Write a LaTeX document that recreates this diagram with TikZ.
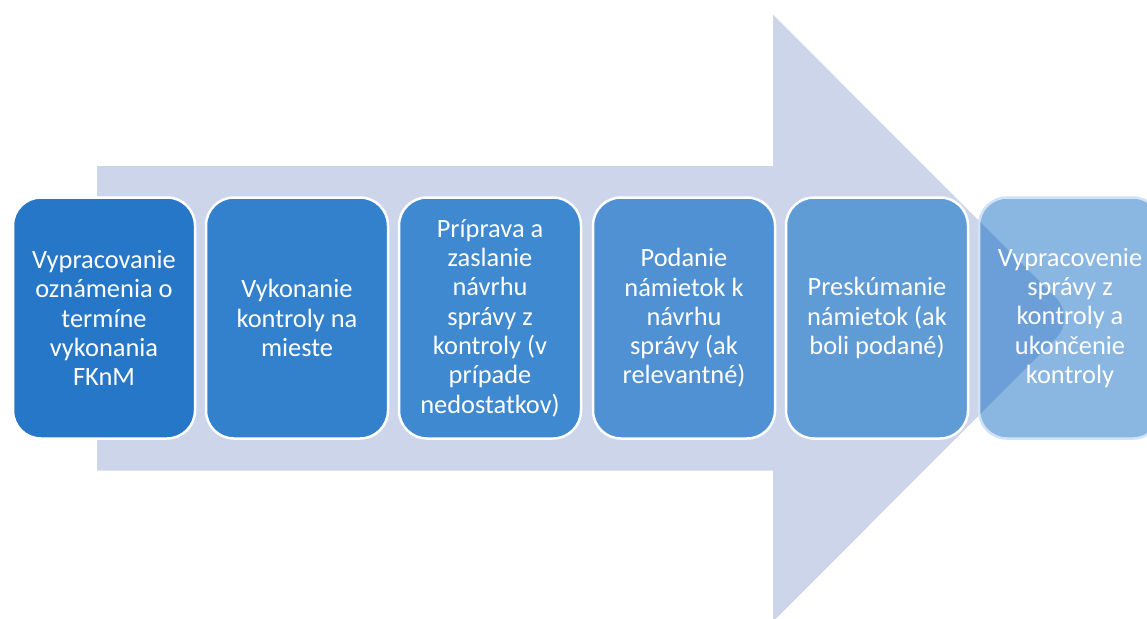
\documentclass[tikz,border=0pt]{standalone}
\usepackage{fontspec}
\setmainfont{Carlito}
\definecolor{arrowfill}{HTML}{CDD5EA}
\definecolor{arrowdark}{HTML}{6C9FD7}
\definecolor{boxA}{HTML}{2677C8}
\definecolor{boxB}{HTML}{3381CC}
\definecolor{boxC}{HTML}{3E89CF}
\definecolor{boxD}{HTML}{4F91D3}
\definecolor{boxE}{HTML}{5F9BD5}
\definecolor{boxF}{HTML}{8AB6E2}
\begin{document}
\begin{tikzpicture}[x=1pt, y=1pt,
    stepbox/.style={rectangle, rounded corners=28pt, draw=white, line width=2.5pt,
      minimum width=182pt, minimum height=241pt, inner sep=0pt, text=white,
      align=center, font=\fontsize{26.4}{29.3}\selectfont}]
  \useasboundingbox (0,0) rectangle (1147,-618);
  \clip (0,0) rectangle (1147,-618);
  % big arrow behind the steps
  \coordinate (hTop) at (773,-14.7);
  \coordinate (hTip) at (1076,-318);
  \coordinate (hBot) at (773,-621.7);
  \fill[arrowfill] (97,-166) -- (773,-166) -- (hTop) -- (hTip) -- (hBot)
    -- (773,-470.7) -- (97,-470.7) -- cycle;
  % steps
  \node[stepbox, fill=boxA] (s1) at (104,-318) {Vypracovanie\\oznámenia o\\termíne\\vykonania\\FKnM};
  \node[stepbox, fill=boxB] (s2) at (297,-318) {Vykonanie\\kontroly na\\mieste};
  \node[stepbox, fill=boxC] (s3) at (490,-318) {Príprava a\\zaslanie\\návrhu\\správy z\\kontroly (v\\prípade\\nedostatkov)};
  \node[stepbox, fill=boxD] (s4) at (684,-318) {Podanie\\námietok k\\návrhu\\správy (ak\\relevantné)};
  \node[stepbox, fill=boxE] (s5) at (877,-318) {Preskúmanie\\námietok (ak\\boli podané)};
  \node[stepbox, fill=boxF, draw=white!60!boxF,
    path picture={\fill[arrowdark] (hTop) -- (hTip) -- (hBot) -- cycle;}]
    (s6) at (1070,-318) {Vypracovenie\\správy z\\kontroly a\\ukončenie\\kontroly};
\end{tikzpicture}
\end{document}
